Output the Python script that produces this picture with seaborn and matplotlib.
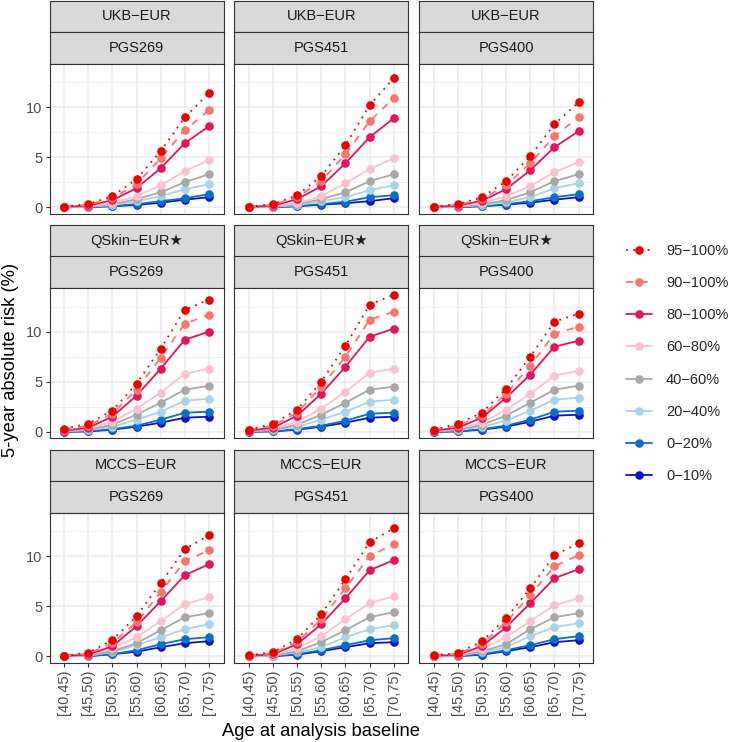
import numpy as np
import pandas as pd
import matplotlib
matplotlib.use("Agg")
import matplotlib.pyplot as plt
import seaborn as sns
from matplotlib.lines import Line2D

sns.set_style("white")
plt.rcParams['font.family'] = ['Liberation Sans', 'DejaVu Sans']

# ---------------- data ----------------
age_bins = ["[40,45)", "[45,50)", "[50,55)", "[55,60)", "[60,65)", "[65,70)", "[70,75)"]
groups = ["95−100%", "90−100%", "80−100%", "60−80%", "40−60%", "20−40%", "0−20%", "0−10%"]
cohorts = ["UKB−EUR", "QSkin−EUR★", "MCCS−EUR"]
scores = ["PGS269", "PGS451", "PGS400"]

# rows follow `groups` order (95-100% ... 0-10%)
ukb_pgs269 = [
    [0.05, 0.3, 1.1, 2.8, 5.6, 9.0, 11.4],
    [0.04, 0.25, 0.9, 2.3, 4.9, 7.7, 9.7],
    [0.03, 0.15, 0.7, 1.9, 3.9, 6.4, 8.1],
    [0.02, 0.1, 0.4, 1.1, 2.2, 3.6, 4.7],
    [0.01, 0.06, 0.3, 0.8, 1.5, 2.5, 3.3],
    [0.01, 0.05, 0.2, 0.6, 1.1, 1.8, 2.3],
    [0.0, 0.02, 0.12, 0.3, 0.6, 0.9, 1.3],
    [0.0, 0.01, 0.1, 0.22, 0.45, 0.75, 1.0],
]
ukb_pgs451 = [
    [0.05, 0.3, 1.2, 3.1, 6.2, 10.2, 12.9],
    [0.04, 0.25, 1.0, 2.6, 5.3, 8.6, 10.9],
    [0.03, 0.15, 0.8, 2.1, 4.4, 7.0, 8.9],
    [0.02, 0.1, 0.4, 1.1, 2.4, 3.8, 4.9],
    [0.01, 0.06, 0.3, 0.8, 1.5, 2.6, 3.3],
    [0.01, 0.05, 0.2, 0.6, 1.0, 1.7, 2.2],
    [0.0, 0.02, 0.12, 0.3, 0.55, 1.0, 1.2],
    [0.0, 0.01, 0.1, 0.25, 0.4, 0.6, 0.9],
]
ukb_pgs400 = [
    [0.05, 0.3, 1.0, 2.6, 5.1, 8.3, 10.5],
    [0.04, 0.25, 0.8, 2.2, 4.4, 7.1, 9.0],
    [0.03, 0.15, 0.65, 1.8, 3.7, 6.0, 7.6],
    [0.02, 0.1, 0.4, 1.1, 2.1, 3.5, 4.5],
    [0.01, 0.06, 0.3, 0.7, 1.5, 2.6, 3.3],
    [0.01, 0.05, 0.2, 0.5, 1.0, 1.9, 2.4],
    [0.0, 0.02, 0.12, 0.3, 0.6, 1.0, 1.3],
    [0.0, 0.01, 0.1, 0.25, 0.45, 0.75, 1.0],
]
qskin_pgs269 = [
    [0.3, 0.8, 2.1, 4.8, 8.3, 12.2, 13.2],
    [0.2, 0.6, 1.8, 4.2, 7.4, 10.8, 11.7],
    [0.1, 0.4, 1.5, 3.6, 6.3, 9.2, 10.0],
    [0.1, 0.3, 1.0, 2.3, 3.9, 5.8, 6.3],
    [0.05, 0.2, 0.7, 1.7, 2.9, 4.2, 4.6],
    [0.05, 0.15, 0.5, 1.2, 2.0, 3.1, 3.3],
    [0.0, 0.05, 0.25, 0.6, 1.2, 1.9, 2.0],
    [0.0, 0.03, 0.2, 0.5, 0.9, 1.4, 1.5],
]
qskin_pgs451 = [
    [0.2, 0.8, 2.2, 5.0, 8.6, 12.7, 13.7],
    [0.2, 0.6, 1.9, 4.5, 7.5, 11.2, 12.0],
    [0.1, 0.4, 1.6, 3.8, 6.5, 9.5, 10.3],
    [0.1, 0.3, 1.0, 2.3, 4.0, 5.9, 6.3],
    [0.05, 0.2, 0.7, 1.7, 2.9, 4.2, 4.5],
    [0.05, 0.15, 0.5, 1.2, 2.0, 3.0, 3.2],
    [0.0, 0.05, 0.25, 0.6, 1.1, 1.8, 1.9],
    [0.0, 0.03, 0.2, 0.5, 0.9, 1.4, 1.5],
]
qskin_pgs400 = [
    [0.2, 0.8, 1.9, 4.3, 7.5, 11.0, 11.8],
    [0.2, 0.6, 1.6, 3.8, 6.6, 9.8, 10.5],
    [0.1, 0.4, 1.4, 3.4, 5.7, 8.5, 9.1],
    [0.1, 0.3, 0.9, 2.2, 3.8, 5.6, 6.1],
    [0.05, 0.2, 0.7, 1.6, 2.9, 4.2, 4.6],
    [0.05, 0.15, 0.5, 1.1, 2.1, 3.2, 3.4],
    [0.0, 0.05, 0.25, 0.6, 1.2, 2.0, 2.1],
    [0.0, 0.03, 0.2, 0.5, 1.0, 1.6, 1.7],
]
mccs_pgs269 = [
    [0.05, 0.35, 1.6, 4.0, 7.3, 10.7, 12.1],
    [0.04, 0.25, 1.3, 3.4, 6.4, 9.5, 10.6],
    [0.03, 0.15, 1.0, 3.0, 5.5, 8.1, 9.2],
    [0.02, 0.1, 0.8, 1.9, 3.5, 5.2, 5.9],
    [0.01, 0.06, 0.5, 1.3, 2.6, 3.9, 4.3],
    [0.01, 0.05, 0.4, 1.1, 1.9, 2.7, 3.2],
    [0.0, 0.02, 0.2, 0.6, 1.2, 1.7, 1.9],
    [0.0, 0.01, 0.2, 0.45, 0.9, 1.3, 1.5],
]
mccs_pgs451 = [
    [0.1, 0.4, 1.7, 4.2, 7.7, 11.4, 12.8],
    [0.05, 0.3, 1.4, 3.7, 6.8, 10.0, 11.2],
    [0.03, 0.2, 1.2, 3.2, 5.8, 8.6, 9.6],
    [0.02, 0.1, 0.8, 2.0, 3.7, 5.3, 6.0],
    [0.01, 0.06, 0.5, 1.4, 2.6, 3.9, 4.4],
    [0.01, 0.05, 0.4, 0.9, 1.9, 2.7, 3.1],
    [0.0, 0.02, 0.2, 0.6, 1.1, 1.6, 1.8],
    [0.0, 0.01, 0.15, 0.5, 0.9, 1.3, 1.4],
]
mccs_pgs400 = [
    [0.1, 0.3, 1.5, 3.8, 6.8, 10.1, 11.3],
    [0.05, 0.25, 1.2, 3.4, 6.1, 9.0, 10.1],
    [0.03, 0.15, 1.0, 2.9, 5.3, 7.8, 8.7],
    [0.02, 0.1, 0.7, 1.9, 3.5, 5.1, 5.8],
    [0.01, 0.06, 0.5, 1.2, 2.7, 3.9, 4.3],
    [0.01, 0.05, 0.4, 0.9, 2.0, 2.9, 3.3],
    [0.0, 0.02, 0.2, 0.6, 1.1, 1.7, 2.0],
    [0.0, 0.01, 0.15, 0.5, 0.9, 1.4, 1.6],
]

panel_data = [
    [ukb_pgs269, ukb_pgs451, ukb_pgs400],
    [qskin_pgs269, qskin_pgs451, qskin_pgs400],
    [mccs_pgs269, mccs_pgs451, mccs_pgs400],
]

# ---------------- styles ----------------
group_colors = ["#EE0000", "#F8766D", "#E4145C", "#F9C3CD", "#A8A8A8", "#A8D3E8", "#0A6FC8", "#0A14C0"]
palette = dict(zip(groups, group_colors))
dash_map = {g: "" for g in groups}
dash_map[groups[0]] = (1, 3)
dash_map[groups[1]] = (4, 4)
marker_map = {g: "o" for g in groups}
draw_order = groups[::-1]

W, H = 729, 742
fig = plt.figure(figsize=(W / 100, H / 100), dpi=100)


def fx(px):
    return px / W


def fy(py):
    return 1 - py / H


PANEL_W = 174
PANEL_H = 150
STRIP_H = 31.5
FS = 10.5
EDGE = "#333333"

for i, cohort in enumerate(cohorts):
    for j, score in enumerate(scores):
        left = 49.5 + j * 184.8
        top = 0.5 + i * 224.5
        for k, lab in enumerate([cohort, score]):
            st = top + k * STRIP_H
            sax = fig.add_axes([fx(left), fy(st + STRIP_H), PANEL_W / W, STRIP_H / H])
            sax.set_facecolor("#D9D9D9")
            sax.set_xticks([])
            sax.set_yticks([])
            for sp in sax.spines.values():
                sp.set_color(EDGE)
                sp.set_linewidth(0.8)
            sax.text(0.5, 0.5, lab, ha="center", va="center", fontsize=FS,
                     color="#1A1A1A", transform=sax.transAxes)

        ptop = top + 2 * STRIP_H
        ax = fig.add_axes([fx(left), fy(ptop + PANEL_H), PANEL_W / W, PANEL_H / H])
        vals = panel_data[i][j]
        rows = []
        for g, series in zip(groups, vals):
            for a, v in zip(age_bins, series):
                rows.append((a, v, g))
        df = pd.DataFrame(rows, columns=["age", "risk", "group"])

        sns.lineplot(data=df, x="age", y="risk", hue="group", hue_order=draw_order,
                     palette=palette, style="group", style_order=draw_order,
                     dashes=dash_map, markers=marker_map, markersize=6.2,
                     markeredgewidth=0, linewidth=1.3, errorbar=None,
                     legend=False, ax=ax)

        ax.set_xlim(-0.6, 6.6)
        ax.set_ylim(-0.63, 14.37)
        ax.set_xticks(range(len(age_bins)))
        ax.set_xticklabels(age_bins, rotation=90)
        ax.set_yticks([0, 5, 10])
        ax.set_yticks([2.5, 7.5, 12.5], minor=True)
        ax.set_axisbelow(True)
        ax.grid(which="major", color="#EBEBEB", linewidth=1.1)
        ax.grid(which="minor", axis="y", color="#EBEBEB", linewidth=0.55)
        ax.set_facecolor("white")
        for sp in ax.spines.values():
            sp.set_color(EDGE)
            sp.set_linewidth(0.8)
        ax.set_xlabel("")
        ax.set_ylabel("")
        ax.tick_params(which="minor", length=0)
        ax.tick_params(which="major", length=3, width=0.8, color=EDGE,
                       labelsize=FS, labelcolor="#4D4D4D", pad=2)
        if i < 2:
            ax.tick_params(axis="x", bottom=False, labelbottom=False)
        else:
            ax.tick_params(axis="x", bottom=True, labelbottom=True)
        if j > 0:
            ax.tick_params(axis="y", left=False, labelleft=False)
        else:
            ax.tick_params(axis="y", left=True, labelleft=True)

fig.text(fx(321), fy(731), "Age at analysis baseline", ha="center", va="center",
         fontsize=13.2, color="black")
fig.text(fx(11), fy(360), "5-year absolute risk (%)", ha="center", va="center",
         rotation=90, fontsize=13.2, color="black")

handles = []
for g in groups:
    d = dash_map[g]
    h = Line2D([0], [0], color=palette[g], linewidth=1.3, marker="o",
               markersize=6.2, markeredgewidth=0)
    if d != "":
        h.set_dashes(d)
    handles.append(h)

fig.legend(handles, groups, loc="center left", bbox_to_anchor=(fx(626), fy(363.5)),
           frameon=False, fontsize=FS, numpoints=1, handlelength=1.8,
           handletextpad=0.95, labelspacing=1.25, borderaxespad=0, borderpad=0)

fig.savefig("out.png", dpi=100)
